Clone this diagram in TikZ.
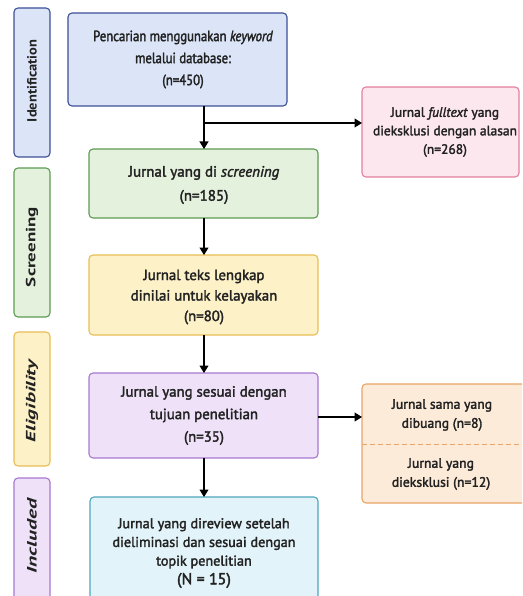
\documentclass[tikz,border=0pt]{standalone}
\usepackage{fontspec}
\usepackage{graphicx}
\setmainfont{PT Sans}[FakeBold=2.2]
\newfontfamily\sidefont{PT Sans}
\usetikzlibrary{arrows.meta,calc}
\definecolor{bluefill}{HTML}{DCE5F8}
\definecolor{blueline}{HTML}{3D4F95}
\definecolor{greenfill}{HTML}{E4F1DD}
\definecolor{greenline}{HTML}{5E9A52}
\definecolor{yellowfill}{HTML}{FDF1C8}
\definecolor{yellowline}{HTML}{E8BE55}
\definecolor{purplefill}{HTML}{EEE1F8}
\definecolor{purpleline}{HTML}{A778CF}
\definecolor{cyanfill}{HTML}{E2F4F9}
\definecolor{cyanline}{HTML}{4DA6BC}
\definecolor{pinkfill}{HTML}{FDE7EE}
\definecolor{pinkline}{HTML}{E3809C}
\definecolor{orangefill}{HTML}{FDEBD9}
\definecolor{orangeline}{HTML}{E9A466}
\definecolor{txt}{HTML}{222222}
\newcommand{\sidelab}[2]{\resizebox{#1}{9.5pt}{\sidefont\bfseries #2}}
\tikzset{
  box/.style={draw, line width=1.1pt, rounded corners=4pt},
  boxtext/.style={text=txt, align=center, inner sep=0pt},
  sidetext/.style={text=txt, rotate=90, inner sep=0pt},
  arr/.style={line width=1.1pt, -{Triangle[length=7.5pt,width=9pt]}},
}
\begin{document}
\begin{tikzpicture}[x=1pt,y=-1pt]
\useasboundingbox (0,0) rectangle (522,596);
\begin{scope}
\clip (0,0) rectangle (522,596);
% side labels
\draw[box, fill=bluefill, draw=blueline] (14,8) rectangle (50,157);
\node[sidetext] (sid) at (32,81) {\sidelab{82pt}{Identification}};
\draw[box, fill=greenfill, draw=greenline] (14,168) rectangle (50,317);
\node[sidetext] (ssc) at (32,247) {\sidelab{80pt}{Screening}};
\draw[box, fill=yellowfill, draw=yellowline] (14,332) rectangle (50,466);
\node[sidetext] (sel) at (32,401) {\sidelab{82pt}{\itshape Eligibility}};
\draw[box, fill=purplefill, draw=purpleline] (14,478) rectangle (50,610);
\node[sidetext] (sin) at (32,536) {\sidelab{75pt}{\itshape Included}};

% main boxes
\draw[box, fill=bluefill, draw=blueline] (68,13) rectangle (287,106);
\node[boxtext, font=\fontsize{14.8}{22}\selectfont\addfontfeatures{FakeStretch=0.86}] (t1) at (183,59.5) {Pencarian menggunakan \textit{keyword}\\melalui database:\\(n=450)};
\coordinate (b1s) at (204,106);

\draw[box, fill=greenfill, draw=greenline] (89,149) rectangle (318,218);
\node[boxtext, font=\fontsize{15}{24}\selectfont] (t2) at (204,185) {Jurnal yang di \textit{screening}\\(n=185)};
\coordinate (b2n) at (204,149);
\coordinate (b2s) at (204,218);

\draw[box, fill=yellowfill, draw=yellowline] (89,255) rectangle (318,335);
\node[boxtext, font=\fontsize{14.8}{20.5}\selectfont] (t3) at (204,297) {Jurnal teks lengkap\\dinilai untuk kelayakan\\(n=80)};
\coordinate (b3n) at (204,255);
\coordinate (b3s) at (204,335);

\draw[box, fill=purplefill, draw=purpleline] (89,373) rectangle (318,458);
\node[boxtext, font=\fontsize{14.8}{22.5}\selectfont] (t4) at (204,415.5) {Jurnal yang sesuai dengan\\tujuan penelitian\\(n=35)};
\coordinate (b4n) at (204,373);
\coordinate (b4s) at (204,458);
\coordinate (b4e) at (318,417);

\draw[box, fill=cyanfill, draw=cyanline] (90,497) rectangle (318,620);
\node[boxtext, font=\fontsize{14.2}{18.7}\selectfont] (t5) at (204,553) {Jurnal yang direview setelah\\dieliminasi dan sesuai dengan\\topik penelitian\\{\fontsize{16}{18}\selectfont (N = 15)}};
\coordinate (b5n) at (204,497);

% right boxes
\draw[box, fill=pinkfill, draw=pinkline] (362,87) rectangle (519,177);
\node[boxtext, font=\fontsize{13.5}{18.5}\selectfont] (tp) at (445,132) {Jurnal \textit{fulltext} yang\\dieksklusi dengan alasan\\(n=268)};
\coordinate (pw) at (362,123);

\draw[box, fill=orangefill, draw=orangeline] (362,384) rectangle (530,503);
\draw[orangeline, line width=1pt, dash pattern=on 5pt off 3pt] (362,444) -- (522,444);
\node[boxtext, font=\fontsize{13.7}{19}\selectfont] (to1) at (442,415) {Jurnal sama yang\\dibuang (n=8)};
\node[boxtext, font=\fontsize{13.7}{19}\selectfont] (to2) at (441,474) {Jurnal yang\\dieksklusi (n=12)};
\coordinate (ow) at (362,417);

% connectors
\coordinate (j1) at (204,123);
\draw[arr] (b1s) -- (b2n);
\draw[arr] (j1) -- (pw);
\draw[arr] (b2s) -- (b3n);
\draw[arr] (b3s) -- (b4n);
\draw[arr] (b4s) -- (b5n);
\draw[arr] (b4e) -- (ow);
\end{scope}
\end{tikzpicture}
\end{document}
